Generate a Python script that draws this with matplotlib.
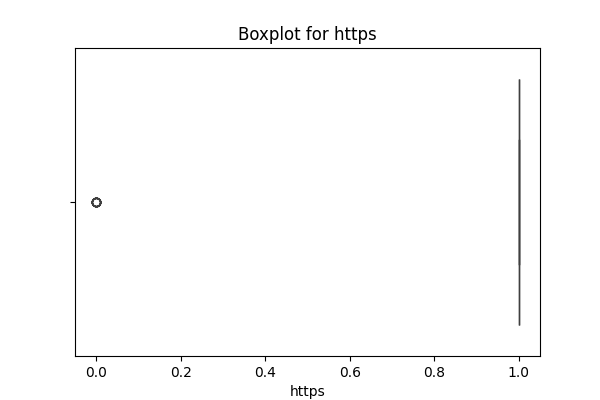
import numpy as np
import pandas as pd
import seaborn as sns
import matplotlib
matplotlib.use("Agg")
import matplotlib.pyplot as plt

# https flag values and how often each one appears
https_values = [0, 1]
https_counts = [12, 88]

df = pd.DataFrame({"https": np.repeat(https_values, https_counts)})

plt.figure(figsize=(6, 4), dpi=100)
sns.boxplot(x=df["https"])
plt.title("Boxplot for https")
plt.savefig("out.png")
